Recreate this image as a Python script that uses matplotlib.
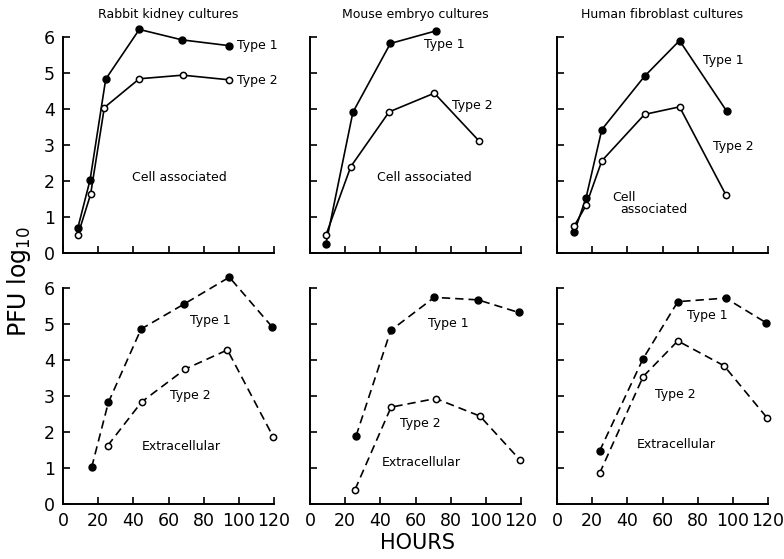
import matplotlib
matplotlib.use("Agg")
import matplotlib.pyplot as plt

plt.rcParams['font.family'] = ['DejaVu Sans']

titles = ["Rabbit kidney cultures", "Mouse embryo cultures", "Human fibroblast cultures"]

# cell associated (top row)
cell_t1_x = [[8.4, 15.4, 24.3, 43.4, 67.7, 94.4],
             [9.0, 24.4, 45.7, 71.6],
             [9.8, 16.5, 25.5, 49.8, 69.7, 96.5]]
cell_t1_y = [[0.69, 2.03, 4.83, 6.21, 5.92, 5.76],
             [0.24, 3.91, 5.82, 6.17],
             [0.58, 1.53, 3.43, 4.91, 5.90, 3.94]]
cell_t2_x = [[8.4, 15.7, 23.5, 43.4, 68.1, 94.6],
             [9.0, 23.2, 45.0, 70.7, 96.0],
             [9.8, 16.5, 25.5, 49.8, 69.7, 96.2]]
cell_t2_y = [[0.49, 1.63, 4.04, 4.84, 4.94, 4.81],
             [0.49, 2.40, 3.92, 4.44, 3.12],
             [0.75, 1.32, 2.56, 3.85, 4.06, 1.60]]

# extracellular (bottom row)
ext_t1_x = [[16.3, 25.8, 44.4, 68.7, 94.6, 119.1],
            [26.2, 45.9, 70.7, 95.6, 118.7],
            [24.2, 49.0, 68.7, 95.9, 119.1]]
ext_t1_y = [[1.02, 2.82, 4.86, 5.55, 6.30, 4.91],
            [1.89, 4.82, 5.74, 5.67, 5.32],
            [1.47, 4.04, 5.62, 5.72, 5.03]]
ext_t2_x = [[25.4, 44.8, 69.6, 93.5, 119.6],
            [25.6, 46.1, 71.5, 96.7, 119.5],
            [24.2, 49.0, 68.7, 95.0, 119.7]]
ext_t2_y = [[1.62, 2.84, 3.75, 4.28, 1.86],
            [0.40, 2.69, 2.93, 2.44, 1.22],
            [0.85, 3.54, 4.53, 3.84, 2.38]]

x_ticks = [0, 20, 40, 60, 80, 100, 120]
y_ticks = [0, 1, 2, 3, 4, 5, 6]

# label positions in data coords (x, y)
cell_t1_lab = [(99, 5.75), (65, 5.8), (83, 5.35)]
cell_t2_lab = [(99, 4.8), (81, 4.1), (89, 2.95)]
ext_t1_lab = [(72, 5.1), (67, 5.0), (74, 5.25)]
ext_t2_lab = [(61, 3.0), (51, 2.25), (56, 3.05)]

W, H = 784, 559
fig = plt.figure(figsize=(W / 100, H / 100), dpi=100)
lefts = [63, 310, 557]
tops = [37, 288]
aw, ah = 211, 216

axes = {}
for r in range(2):
    for c in range(3):
        ax = fig.add_axes([lefts[c] / W, 1 - (tops[r] + ah) / H, aw / W, ah / H])
        axes[(r, c)] = ax
        ax.set_xlim(0, 120)
        ax.set_ylim(0, 6)
        for s in ['top', 'right']:
            ax.spines[s].set_visible(False)
        for s in ['left', 'bottom']:
            ax.spines[s].set_linewidth(1.4)
        ax.set_xticks(x_ticks)
        ax.set_yticks(y_ticks)
        ax.tick_params(direction='in', length=5, width=1.2, labelsize=12.5, pad=6)
        if r == 0:
            ax.set_xticklabels([])
        if c != 0:
            ax.set_yticklabels([])

for c in range(3):
    ax = axes[(0, c)]
    ax.plot(cell_t1_x[c], cell_t1_y[c], '-', color='black', lw=1.2, marker='o',
            ms=5, mfc='black', mec='black', clip_on=False)
    ax.plot(cell_t2_x[c], cell_t2_y[c], '-', color='black', lw=1.2, marker='o',
            ms=4.5, mfc='white', mec='black', mew=1.1, clip_on=False)
    ax.text(cell_t1_lab[c][0], cell_t1_lab[c][1], "Type 1", fontsize=9, va='center')
    ax.text(cell_t2_lab[c][0], cell_t2_lab[c][1], "Type 2", fontsize=9, va='center')
    ax.set_title(titles[c], fontsize=9, pad=14)

    ax = axes[(1, c)]
    ax.plot(ext_t1_x[c], ext_t1_y[c], '--', color='black', lw=1.2, dashes=(5, 3),
            marker='o', ms=5, mfc='black', mec='black', clip_on=False)
    ax.plot(ext_t2_x[c], ext_t2_y[c], '--', color='black', lw=1.2, dashes=(5, 3),
            marker='o', ms=4.5, mfc='white', mec='black', mew=1.1, clip_on=False)
    ax.text(ext_t1_lab[c][0], ext_t1_lab[c][1], "Type 1", fontsize=9, va='center')
    ax.text(ext_t2_lab[c][0], ext_t2_lab[c][1], "Type 2", fontsize=9, va='center')

axes[(0, 0)].text(66, 2.1, "Cell associated", fontsize=9, ha='center', va='center')
axes[(0, 1)].text(65, 2.1, "Cell associated", fontsize=9, ha='center', va='center')
axes[(0, 2)].text(38, 1.55, "Cell", fontsize=9, ha='center', va='center')
axes[(0, 2)].text(55, 1.2, "associated", fontsize=9, ha='center', va='center')
axes[(1, 0)].text(67, 1.6, "Extracellular", fontsize=9, ha='center', va='center')
axes[(1, 1)].text(63, 1.15, "Extracellular", fontsize=9, ha='center', va='center')
axes[(1, 2)].text(68, 1.65, "Extracellular", fontsize=9, ha='center', va='center')

fig.text(19 / W, 1 - 282 / H, "PFU log$_{10}$", fontsize=17, rotation=90,
         ha='center', va='center')
fig.text(418 / W, 1 - 543 / H, "HOURS", fontsize=15, ha='center', va='center')

fig.savefig("out.png", dpi=100)
